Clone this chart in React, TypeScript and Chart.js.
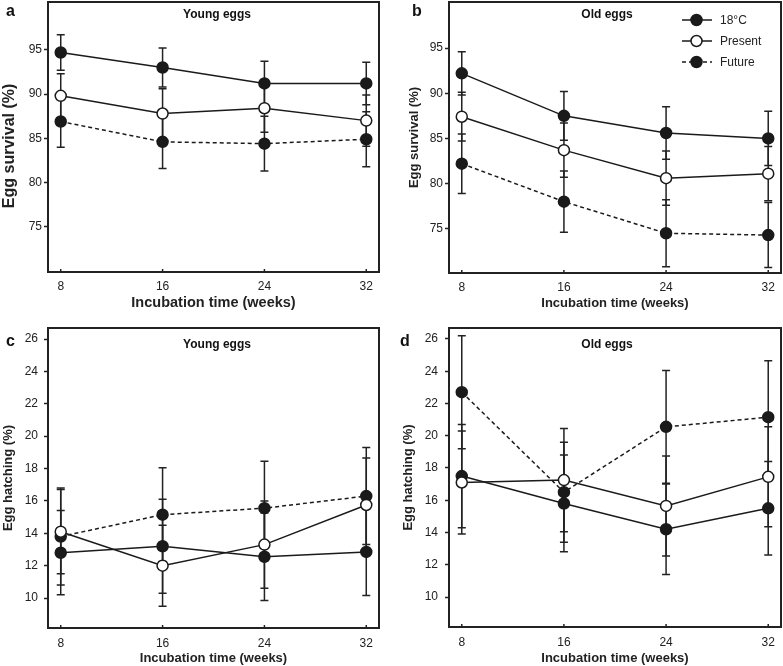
import React, { useEffect, useRef } from "react";
import { Chart, registerables } from "chart.js";

Chart.register(...registerables);

// ---------- data ----------
const weeks = [8, 16, 24, 32];
const seriesNames = ["18°C", "Present", "Future"];
const survivalTicks = [75, 80, 85, 90, 95];
const hatchingTicks = [10, 12, 14, 16, 18, 20, 22, 24, 26];

// a: egg survival, young eggs
const survYoung18 = [94.7, 93.0, 91.2, 91.2];
const survYoung18Err = [2.0, 2.2, 2.5, 2.4];
const survYoungPresent = [89.8, 87.8, 88.4, 87.0];
const survYoungPresentErr = [2.5, 2.8, 2.7, 2.9];
const survYoungFuture = [86.9, 84.6, 84.4, 84.9];
const survYoungFutureErr = [2.9, 3.0, 3.1, 3.1];

// b: egg survival, old eggs
const survOld18 = [92.2, 87.5, 85.6, 85.0];
const survOld18Err = [2.4, 2.7, 2.9, 3.0];
const survOldPresent = [87.4, 83.7, 80.6, 81.1];
const survOldPresentErr = [2.7, 3.0, 3.0, 3.0];
const survOldFuture = [82.2, 78.0, 74.5, 74.3];
const survOldFutureErr = [3.3, 3.4, 3.7, 3.6];

// c: egg hatching, young eggs
const hatchYoung18 = [12.8, 13.2, 12.55, 12.85];
const hatchYoung18Err = [2.6, 2.9, 2.7, 2.7];
const hatchYoungPresent = [14.1, 12.0, 13.3, 15.75];
const hatchYoungPresentErr = [2.6, 2.5, 2.7, 2.9];
const hatchYoungFuture = [13.8, 15.15, 15.55, 16.3];
const hatchYoungFutureErr = [3.0, 2.9, 2.9, 3.0];

// d: egg hatching, old eggs
const hatchOld18 = [17.5, 15.8, 14.2, 15.5];
const hatchOld18Err = [3.2, 3.0, 2.8, 2.9];
const hatchOldPresent = [17.1, 17.25, 15.65, 17.45];
const hatchOldPresentErr = [3.2, 3.2, 3.1, 3.1];
const hatchOldFuture = [22.7, 16.5, 20.55, 21.15];
const hatchOldFutureErr = [3.5, 3.1, 3.5, 3.5];

// ---------- styles ----------
const INK = "#1a1a1a";
const FONT = "Arial, 'Liberation Sans', Helvetica, sans-serif";

type Panel = {
  letter: string;
  subtitle: string;
  yTitle: string;
  yMin: number;
  yMax: number;
  yTicks: number[];
  means: number[][];
  errs: number[][];
  left: number;
  top: number;
  width: number;
  height: number;
  area: { l: number; t: number; r: number; b: number };
  yTitleSize: number;
  yTitlePad: number;
  yTickPad: number;
  xTickPad: number;
  xTitleSize: number;
  xTitlePad: number;
  letterX: number;
  letterY: number;
  subX: number;
  subY: number;
  legend: boolean;
};

const panels: Panel[] = [
  {
    letter: "a", subtitle: "Young eggs", yTitle: "Egg survival (%)    ",
    yMin: 69.9, yMax: 100.4, yTicks: survivalTicks,
    means: [survYoung18, survYoungPresent, survYoungFuture],
    errs: [survYoung18Err, survYoungPresentErr, survYoungFutureErr],
    left: 0, top: 0, width: 390, height: 320,
    area: { l: 48, t: 2, r: 379, b: 272 },
    yTitleSize: 16, yTitlePad: 0, yTickPad: 2, xTickPad: -1, xTitleSize: 14.5, xTitlePad: 8,
    letterX: 6, letterY: 16, subX: 217, subY: 15, legend: false,
  },
  {
    letter: "b", subtitle: "Old eggs", yTitle: "Egg survival (%)",
    yMin: 70.1, yMax: 100.1, yTicks: survivalTicks,
    means: [survOld18, survOldPresent, survOldFuture],
    errs: [survOld18Err, survOldPresentErr, survOldFutureErr],
    left: 390, top: 0, width: 393, height: 320,
    area: { l: 59, t: 2, r: 391, b: 273 },
    yTitleSize: 13, yTitlePad: 17, yTickPad: 2, xTickPad: -1, xTitleSize: 13, xTitlePad: 9,
    letterX: 22, letterY: 16, subX: 217, subY: 15, legend: true,
  },
  {
    letter: "c", subtitle: "Young eggs", yTitle: "Egg hatching (%)",
    yMin: 8.15, yMax: 26.68, yTicks: hatchingTicks,
    means: [hatchYoung18, hatchYoungPresent, hatchYoungFuture],
    errs: [hatchYoung18Err, hatchYoungPresentErr, hatchYoungFutureErr],
    left: 0, top: 320, width: 390, height: 346,
    area: { l: 48, t: 8, r: 379, b: 308 },
    yTitleSize: 13, yTitlePad: 1, yTickPad: 6, xTickPad: 0, xTitleSize: 13, xTitlePad: 0,
    letterX: 6, letterY: 26, subX: 217, subY: 25, legend: false,
  },
  {
    letter: "d", subtitle: "Old eggs", yTitle: "Egg hatching (%)",
    yMin: 8.14, yMax: 26.68, yTicks: hatchingTicks,
    means: [hatchOld18, hatchOldPresent, hatchOldFuture],
    errs: [hatchOld18Err, hatchOldPresentErr, hatchOldFutureErr],
    left: 390, top: 320, width: 393, height: 346,
    area: { l: 59, t: 8, r: 391, b: 307 },
    yTitleSize: 13, yTitlePad: 11, yTickPad: 7, xTickPad: 0, xTitleSize: 13, xTitlePad: 0,
    letterX: 10, letterY: 26, subX: 217, subY: 25, legend: false,
  },
];

const styleFor = (i: number) => ({
  fill: i === 1 ? "#ffffff" : INK,
  dash: i === 2 ? [4, 3] : [],
});

// ---------- plugins ----------
const errorBarPlugin = {
  id: "errorBars",
  beforeDatasetsDraw(chart: any) {
    const ctx = chart.ctx;
    const xs = chart.scales.x;
    const ys = chart.scales.y;
    ctx.save();
    ctx.strokeStyle = "#222";
    ctx.lineWidth = 1.5;
    ctx.setLineDash([]);
    chart.data.datasets.forEach((ds: any) => {
      const errs: number[] = ds.errors || [];
      ds.data.forEach((pt: any, i: number) => {
        const e = errs[i];
        if (e == null) return;
        const x = xs.getPixelForValue(pt.x);
        const y1 = ys.getPixelForValue(pt.y + e);
        const y2 = ys.getPixelForValue(pt.y - e);
        ctx.beginPath();
        ctx.moveTo(x, y1);
        ctx.lineTo(x, y2);
        ctx.moveTo(x - 4, y1);
        ctx.lineTo(x + 4, y1);
        ctx.moveTo(x - 4, y2);
        ctx.lineTo(x + 4, y2);
        ctx.stroke();
      });
    });
    ctx.restore();
  },
};

const framePlugin = {
  id: "frame",
  afterDraw(chart: any, _args: any, opts: any) {
    const ctx = chart.ctx;
    const a = chart.chartArea;
    const xs = chart.scales.x;
    ctx.save();
    ctx.strokeStyle = "#222";
    ctx.lineWidth = 2;
    ctx.setLineDash([]);
    ctx.strokeRect(a.left, a.top, a.right - a.left, a.bottom - a.top);
    ctx.lineWidth = 1.5;
    weeks.forEach((w) => {
      const x = xs.getPixelForValue(w);
      ctx.beginPath();
      ctx.moveTo(x, a.bottom);
      ctx.lineTo(x, a.bottom - 3);
      ctx.stroke();
    });
    ctx.fillStyle = "#111";
    ctx.textBaseline = "alphabetic";
    ctx.textAlign = "left";
    ctx.font = `bold 16px ${FONT}`;
    ctx.fillText(opts.letter, opts.letterX, opts.letterY);
    ctx.textAlign = "center";
    ctx.textBaseline = "middle";
    ctx.font = `bold 12px ${FONT}`;
    ctx.fillText(opts.subtitle, opts.subX, opts.subY);

    if (opts.legend) {
      const rows = [20, 41, 62];
      chart.data.datasets.forEach((ds: any, i: number) => {
        const y = rows[i];
        const st = styleFor(i);
        ctx.strokeStyle = INK;
        ctx.lineWidth = 1.5;
        ctx.setLineDash(st.dash);
        ctx.beginPath();
        ctx.moveTo(292, y);
        ctx.lineTo(322, y);
        ctx.stroke();
        ctx.setLineDash([]);
        ctx.beginPath();
        ctx.arc(306.5, y, 5.5, 0, Math.PI * 2);
        ctx.fillStyle = st.fill;
        ctx.fill();
        ctx.stroke();
        ctx.fillStyle = "#222";
        ctx.textAlign = "left";
        ctx.textBaseline = "middle";
        ctx.font = `12px ${FONT}`;
        ctx.fillText(ds.label, 330, y + 1);
      });
    }
    ctx.restore();
  },
};

function PanelChart({ p }: { p: Panel }) {
  const ref = useRef<HTMLCanvasElement | null>(null);
  useEffect(() => {
    if (!ref.current) return;
    const datasets = seriesNames.map((name, i) => {
      const st = styleFor(i);
      return {
        label: name,
        data: weeks.map((w, j) => ({ x: w, y: p.means[i][j] })),
        errors: p.errs[i],
        borderColor: INK,
        borderWidth: 1.5,
        borderDash: st.dash,
        pointRadius: 5.5,
        pointBorderWidth: 1.5,
        pointBackgroundColor: st.fill,
        pointBorderColor: INK,
        pointStyle: "circle",
        fill: false,
        tension: 0,
        order: i === 1 ? 0 : i === 0 ? 1 : 2,
      } as any;
    });
    const chart = new Chart(ref.current, {
      type: "line",
      data: { datasets },
      plugins: [errorBarPlugin, framePlugin],
      options: {
        animation: false,
        responsive: false,
        maintainAspectRatio: false,
        devicePixelRatio: 1,
        layout: {
          autoPadding: false,
          padding: { top: p.area.t, right: p.width - p.area.r, left: 0, bottom: 0 },
        },
        plugins: {
          legend: { display: false },
          tooltip: { enabled: false },
          title: { display: false },
          frame: {
            letter: p.letter,
            letterX: p.letterX,
            letterY: p.letterY,
            subtitle: p.subtitle,
            subX: p.subX,
            subY: p.subY,
            legend: p.legend,
          },
        } as any,
        scales: {
          x: {
            type: "linear",
            min: 7,
            max: 33,
            grid: { display: false },
            border: { display: false },
            afterBuildTicks: (s: any) => {
              s.ticks = weeks.map((v) => ({ value: v }));
            },
            afterFit: (s: any) => {
              s.height = p.height - p.area.b;
              s.paddingLeft = 0;
              s.paddingRight = 0;
              s.paddingTop = 0;
              s.paddingBottom = 0;
            },
            ticks: {
              autoSkip: false,
              maxRotation: 0,
              padding: p.xTickPad,
              color: "#222",
              font: { family: FONT, size: 12 },
            },
            title: {
              display: true,
              text: "Incubation time (weeks)",
              color: "#222",
              font: { family: FONT, size: p.xTitleSize, weight: "bold" },
              padding: { top: 0, bottom: p.xTitlePad },
            },
          },
          y: {
            type: "linear",
            min: p.yMin,
            max: p.yMax,
            grid: {
              display: true,
              drawOnChartArea: false,
              drawTicks: true,
              tickLength: 4,
              tickWidth: 1.5,
              color: "#222",
            },
            border: { display: false },
            afterBuildTicks: (s: any) => {
              s.ticks = p.yTicks.map((v) => ({ value: v }));
            },
            afterFit: (s: any) => {
              s.width = p.area.l;
              s.paddingLeft = 0;
              s.paddingRight = 0;
              s.paddingTop = 0;
              s.paddingBottom = 0;
            },
            ticks: {
              autoSkip: false,
              padding: p.yTickPad,
              color: "#222",
              font: { family: FONT, size: 12 },
            },
            title: {
              display: true,
              text: p.yTitle,
              color: "#222",
              font: { family: FONT, size: p.yTitleSize, weight: "bold" },
              padding: { top: p.yTitlePad, bottom: 0 },
            },
          },
        },
      } as any,
    });
    return () => chart.destroy();
  }, [p]);
  return (
    <canvas
      ref={ref}
      width={p.width}
      height={p.height}
      style={{
        position: "absolute",
        left: p.left,
        top: p.top,
        width: p.width,
        height: p.height,
      }}
    />
  );
}

export default function App() {
  return (
    <div
      style={{
        position: "absolute",
        left: 0,
        top: 0,
        width: 783,
        height: 666,
        background: "#ffffff",
        overflow: "hidden",
      }}
    >
      {panels.map((p) => (
        <PanelChart key={p.letter} p={p} />
      ))}
    </div>
  );
}
